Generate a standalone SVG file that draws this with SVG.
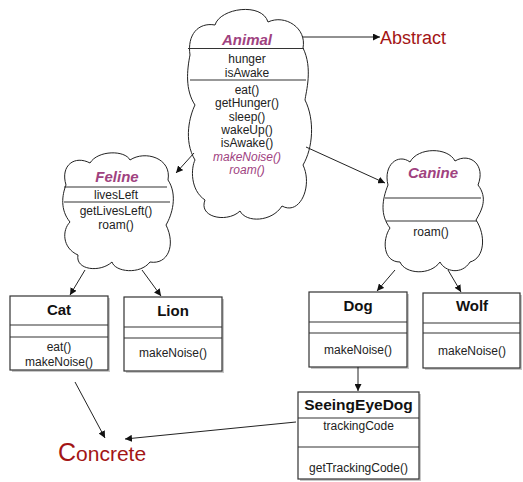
<svg xmlns="http://www.w3.org/2000/svg" width="523" height="482" viewBox="0 0 523 482">
<defs>
<marker id="arr" viewBox="0 0 10 10" refX="10" refY="5" markerWidth="7" markerHeight="7" orient="auto" markerUnits="userSpaceOnUse">
<path d="M0,0 L10,5 L0,10 Z" fill="#111"/>
</marker>
<style>
.cloud{fill:#fff;stroke:#222;stroke-width:1}
.box{fill:#fff;stroke:#333;stroke-width:1.2}
.shadow{fill:#c8c8c8}
.sep{stroke:#333;stroke-width:1.1}
.t{font-family:"Liberation Sans",Arial,sans-serif;font-size:12px;fill:#222;text-anchor:middle}
.cn{font-family:"Liberation Sans",Arial,sans-serif;font-size:15px;font-weight:bold;fill:#111;text-anchor:middle}
.abs{font-family:"Liberation Sans",Arial,sans-serif;font-size:15px;font-weight:bold;font-style:italic;fill:#a0427f;text-anchor:middle}
.it{font-style:italic;fill:#a0427f}
.lbl{font-family:"Liberation Sans",Arial,sans-serif;fill:#a31515}
.conn{stroke:#222;stroke-width:1;fill:none;marker-end:url(#arr)}
</style>
</defs>
<rect width="523" height="482" fill="#fff"/>

<g id="animal">
<path class="cloud" d="M190,55 C187,35 198,22 215,25 C220,8 262,2 268,22 C285,14 307,28 303,48 C313,68 306,92 305,100 C315,120 313,148 303,165 C313,186 300,216 282,206 C272,222 246,223 240,211 C228,223 198,218 205,200 C190,190 191,168 195,160 C183,140 190,115 195,105 C185,90 187,70 190,55 Z"/>
<line class="sep" x1="188" y1="48.5" x2="304" y2="48.5"/>
<line class="sep" x1="190" y1="80" x2="306" y2="80"/>
<text class="abs" x="247" y="45">Animal</text>
<text class="t" x="247" y="63">hunger</text>
<text class="t" x="247" y="77">isAwake</text>
<text class="t" x="247" y="94">eat()</text>
<text class="t" x="247" y="107">getHunger()</text>
<text class="t" x="247" y="121">sleep()</text>
<text class="t" x="247" y="134">wakeUp()</text>
<text class="t" x="247" y="147">isAwake()</text>
<text class="t it" x="247" y="161">makeNoise()</text>
<text class="t it" x="247" y="174">roam()</text>
</g>

<g id="feline">
<path class="cloud" d="M66,185 C60,165 75,155 90,163 C98,150 125,150 130,160 C145,150 172,158 168,180 C178,195 172,215 166,225 C176,245 168,265 150,262 C140,275 115,272 112,262 C100,273 75,270 78,255 C62,248 62,230 70,222 C60,210 62,195 66,185 Z"/>
<line class="sep" x1="64" y1="187" x2="167" y2="187"/>
<line class="sep" x1="64" y1="202" x2="170" y2="202"/>
<text class="abs" x="117" y="182">Feline</text>
<text class="t" x="116" y="199">livesLeft</text>
<text class="t" x="116" y="215">getLivesLeft()</text>
<text class="t" x="116" y="229">roam()</text>
</g>

<g id="canine">
<path class="cloud" d="M388,185 C383,165 398,153 410,162 C418,147 448,147 455,161 C470,152 486,165 478,185 C488,198 482,210 476,220 C486,235 485,258 470,262 C462,275 445,272 440,262 C430,276 405,274 400,262 C383,262 382,240 390,228 C380,215 382,200 388,185 Z"/>
<line class="sep" x1="385" y1="198" x2="481" y2="198"/>
<line class="sep" x1="386" y1="221" x2="477" y2="221"/>
<text class="abs" x="433" y="178">Canine</text>
<text class="t" x="431" y="236">roam()</text>
</g>

<g id="cat">
<rect class="shadow" x="12" y="298" width="98" height="74"/>
<rect class="box" x="10" y="296" width="98" height="74"/>
<line class="sep" x1="10" y1="325" x2="108" y2="325"/>
<line class="sep" x1="10" y1="337" x2="108" y2="337"/>
<text class="cn" x="59" y="315">Cat</text>
<text class="t" x="59" y="351">eat()</text>
<text class="t" x="59" y="366">makeNoise()</text>
</g>

<g id="lion">
<rect class="shadow" x="126" y="299" width="98" height="74"/>
<rect class="box" x="124" y="297" width="98" height="74"/>
<line class="sep" x1="124" y1="327" x2="222" y2="327"/>
<line class="sep" x1="124" y1="338" x2="222" y2="338"/>
<text class="cn" x="173" y="316">Lion</text>
<text class="t" x="173" y="357">makeNoise()</text>
</g>

<g id="dog">
<rect class="shadow" x="311" y="294" width="98" height="75"/>
<rect class="box" x="309" y="292" width="98" height="75"/>
<line class="sep" x1="309" y1="322" x2="407" y2="322"/>
<line class="sep" x1="309" y1="333" x2="407" y2="333"/>
<text class="cn" x="358" y="311">Dog</text>
<text class="t" x="358" y="354">makeNoise()</text>
</g>

<g id="wolf">
<rect class="shadow" x="425" y="295" width="97" height="75"/>
<rect class="box" x="423" y="293" width="97" height="75"/>
<line class="sep" x1="423" y1="323" x2="520" y2="323"/>
<line class="sep" x1="423" y1="333" x2="520" y2="333"/>
<text class="cn" x="472" y="311">Wolf</text>
<text class="t" x="472" y="355">makeNoise()</text>
</g>

<g id="seeingeyedog">
<rect class="shadow" x="300" y="394" width="121" height="87"/>
<rect class="box" x="298" y="392" width="121" height="87"/>
<line class="sep" x1="298" y1="418" x2="419" y2="418"/>
<line class="sep" x1="298" y1="447" x2="419" y2="447"/>
<text class="cn" x="358.5" y="410" style="font-size:15.5px">SeeingEyeDog</text>
<text class="t" x="358.5" y="430">trackingCode</text>
<text class="t" x="358.5" y="472">getTrackingCode()</text>
</g>

<g id="abstract-label">
<text class="lbl" x="380" y="44" font-size="18">Abstract</text>
</g>
<g id="concrete-label">
<text class="lbl" x="58" y="461" font-size="21"><tspan font-size="25">C</tspan>oncrete</text>
</g>

<g id="connectors">
<line class="conn" x1="302" y1="37" x2="380" y2="37"/>
<line class="conn" x1="194" y1="153" x2="176" y2="173"/>
<line class="conn" x1="306" y1="147" x2="385" y2="183"/>
<line class="conn" x1="85" y1="270" x2="70" y2="295"/>
<line class="conn" x1="142" y1="270" x2="161" y2="296"/>
<line class="conn" x1="395" y1="270" x2="377" y2="291"/>
<line class="conn" x1="448" y1="270" x2="461" y2="292"/>
<line class="conn" x1="358" y1="367" x2="358" y2="391"/>
<line class="conn" x1="75" y1="382" x2="105" y2="438"/>
<line class="conn" x1="296" y1="422" x2="125" y2="439"/>
</g>
</svg>
